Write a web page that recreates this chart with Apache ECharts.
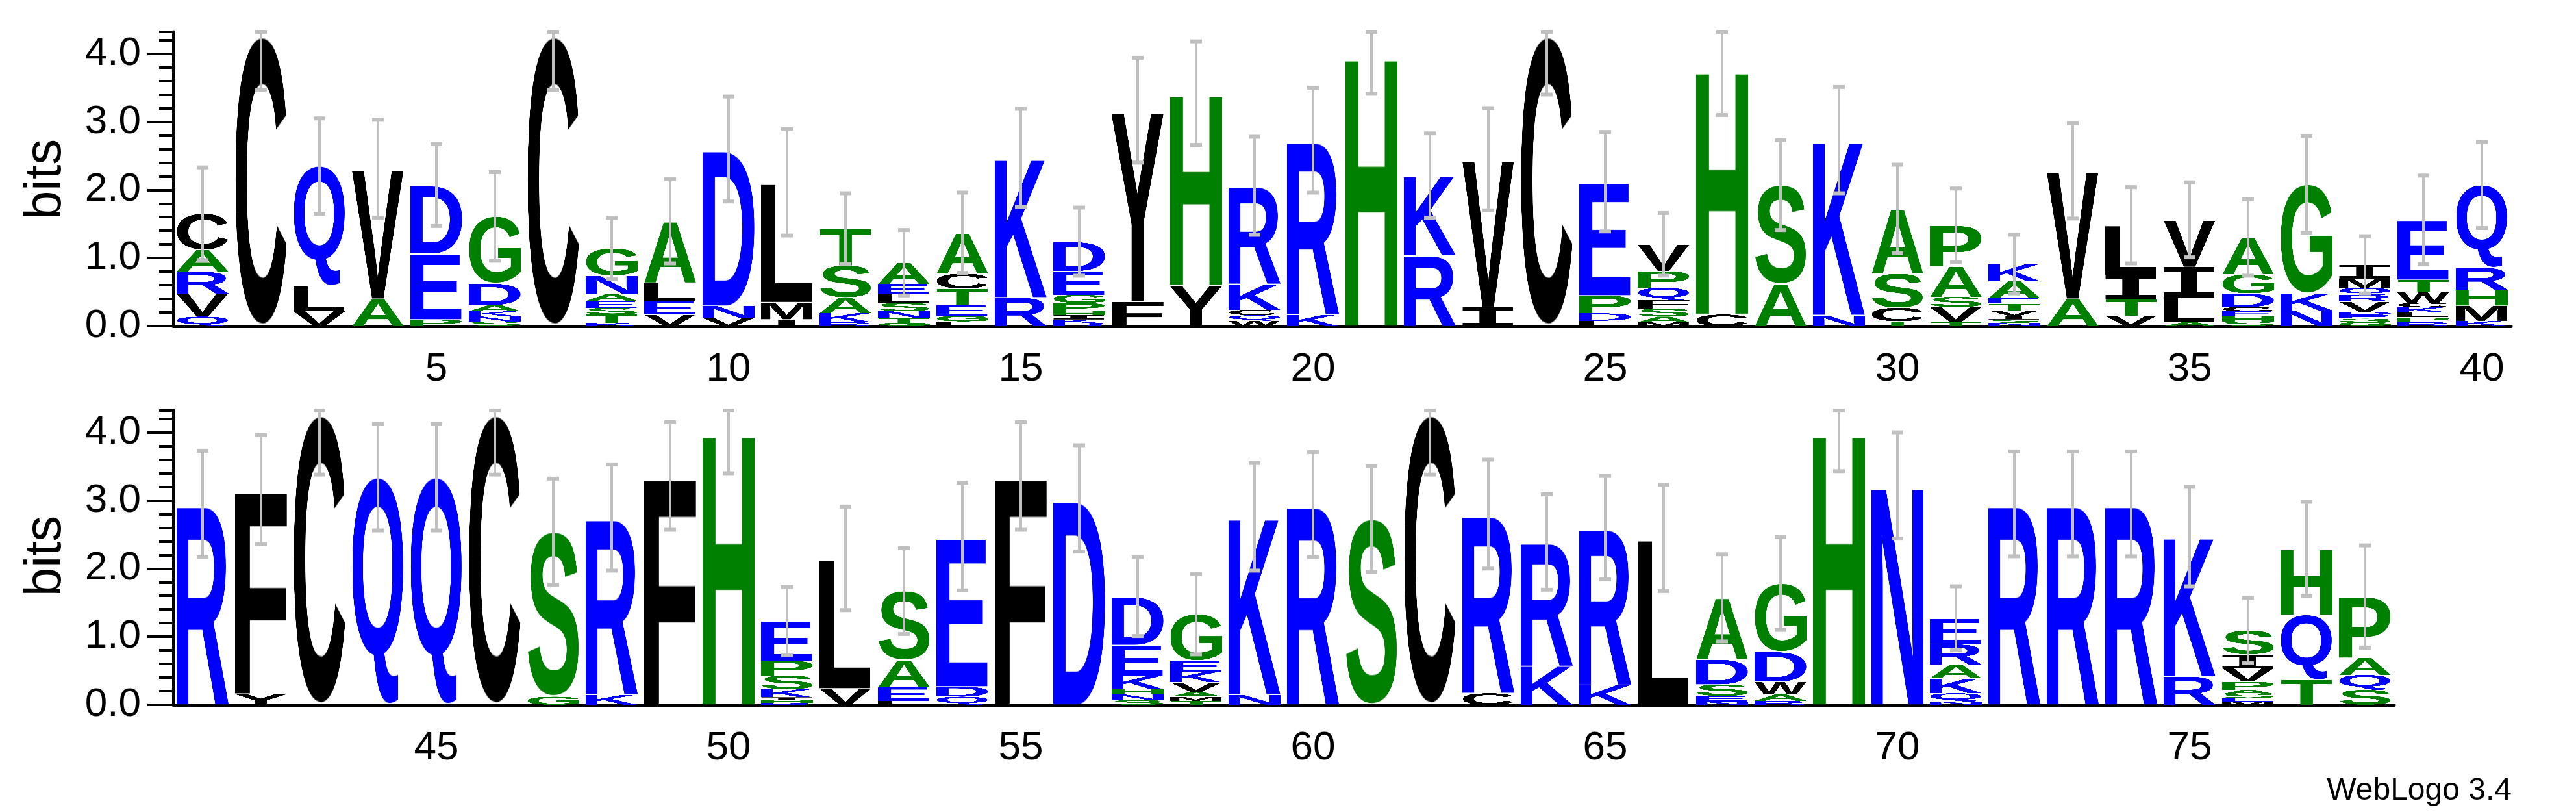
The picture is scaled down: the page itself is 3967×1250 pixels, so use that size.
<!DOCTYPE html>
<html>
<head>
<meta charset="utf-8">
<script src="https://cdn.jsdelivr.net/npm/echarts@6/dist/echarts.min.js"></script>
<style>
html,body{margin:0;padding:0;background:#fff;}
#logo{width:3967px;height:1250px;}
</style>
</head>
<body>
<div id="logo"></div>
<script>
// letter stacks, bottom -> top, letter followed by its height in bits
var stacks1 = [
  "Q.14 V.34 R.32 A.32 C.53", "C4.25", "V.22 L.37 Q1.76", "A.4 V1.91", "P.1 E.97 D1.0",
  "S.07 N.07 K.08 A.09 D.32 G.98", "C4.25", "K.05 T.12 S.1 E.1 A.1 N.27 G.4", "V.17 E.2 L.27 A.9", "V.12 N.18 D2.3",
  "I.1 M.25 L1.76", "R.06 K.13 A.23 S.47 T.54", "G.05 T.07 N.1 S.12 L.14 E.14 A.31", "L.07 G.08 E.16 T.24 C.22 A.6", "R.42 K2.05",
  "R.04 K.06 I.06 H.06 P.12 G.12 E.35 D.43", "F.36 Y2.81", "Y.6 H2.82", "W.08 Q.08 C.08 K.38 R1.44", "K.17 R2.56",
  "H3.97", "R1.04 K1.17", "I.28 V2.17", "C4.25", "L.08 D.11 P.26 E1.67",
  "M.06 A.08 S.12 F.12 Q.18 P.25 V.39", "C.17 H3.6", "A.62 S1.45", "N.16 K2.57", "T.07 C.2 S.5 A.95",
  "T.06 V.22 S.15 A.45 P.6", "N.05 S.05 I.05 V.08 T.1 E.08 A.25 K.25", "A.4 V1.88", "V.15 T.25 I.35 L.73", "A.06 L.36 I.45 V.69",
  "S.07 H.07 E.08 C.06 D.2 G.28 A.54", "N.23 K.25 G1.6", "G.06 S.05 E.05 D.05 V.15 R.1 Q.1 M.14 I.2", "R.06 P.07 L.07 K.08 C.06 W.16 T.18 E.88", "K.08 M.22 H.23 R.33 Q1.21"
];
var stacks2 = [
  "R2.95", "Y.16 F3.0", "C4.25", "Q3.34", "Q3.34",
  "C4.25", "G.12 S2.42", "K.15 R2.6", "F3.36", "H4.0",
  "D.03 H.04 I.04 K.12 S.2 P.22 E.58", "V.24 L1.91", "L.06 E.2 A.4 S1.01", "Q.12 D.15 E2.2", "F3.36",
  "D3.03", "S.07 N.08 H.08 K.2 E.45 D.71", "T.06 M.06 A.07 V.14 K.16 E.16 G.68", "N.15 K2.61", "R2.94",
  "S2.73", "C4.25", "C.17 R2.63", "K.57 R1.82", "K.29 R2.31",
  "L2.45", "N.05 E.08 S.17 D.37 A.9", "R.06 A.09 W.19 D.44 G1.0", "H4.0", "N3.22",
  "N.05 Q.12 K.22 A.2 R.3 E.38", "R2.95", "R2.95", "R2.95", "R.42 K2.05",
  "M.05 E.05 S.06 A.06 P.12 V.2 I.2 S.35", "T.37 Q.95 H.97", "S.22 Q.22 A.25 P.9"
];
// half width of the error bar around each stack top
var errHalf1 = [.68,.78,.7,.72,.6,.65,.78,.45,.62,.77,.78,.52,.48,.59,.72,.5,.77,.76,.72,.77,
  .56,.62,.75,.85,.73,.46,.67,.66,.78,.65,.54,.43,.7,.56,.55,.56,.71,.42,.65,.63];
var errHalf2 = [.78,.8,.87,.78,.78,.87,.78,.78,.79,.6,.5,.76,.63,.79,.79,.78,.58,.59,.79,.77,
  .78,.87,.8,.7,.76,.78,.64,.68,.57,.78,.47,.77,.77,.77,.73,.48,.69,.75];
var firstPos1 = 1, firstPos2 = 41;
var yTickLabels = ["0.0", "1.0", "2.0", "3.0", "4.0"];
var maxBits = 4.32;

var colors = {};
"KRDENQ".split("").forEach(function (c) { colors[c] = "#0000ff"; });
"SGHTAP".split("").forEach(function (c) { colors[c] = "#008000"; });
"YVMCLFIW".split("").forEach(function (c) { colors[c] = "#000000"; });

// glyph bitmaps cropped to the ink box, stretched later into each cell
var glyphCache = {};
function glyph(ch) {
  if (glyphCache[ch]) return glyphCache[ch];
  var cv = document.createElement("canvas");
  var ctx = cv.getContext("2d");
  // I gets a serifed glyph like the original logo
  var font = ch === "I" ? 'bold 400px "DejaVu Sans Mono", monospace' : 'bold 400px "Liberation Sans", Arial, sans-serif';
  ctx.font = font;
  var m = ctx.measureText(ch);
  var w = Math.ceil(m.actualBoundingBoxLeft + m.actualBoundingBoxRight);
  var h = Math.ceil(m.actualBoundingBoxAscent + m.actualBoundingBoxDescent);
  cv.width = w; cv.height = h;
  ctx.font = font;
  ctx.fillStyle = colors[ch] || "#000";
  ctx.textBaseline = "alphabetic";
  ctx.fillText(ch, m.actualBoundingBoxLeft, m.actualBoundingBoxAscent);
  glyphCache[ch] = cv;
  return cv;
}

function parseStacks(stacks) {
  var cells = [], letters = [], tops = [];
  stacks.forEach(function (s, i) {
    var y = 0;
    s.split(" ").forEach(function (tok) {
      var h = parseFloat(tok.slice(1));
      cells.push([i, y, y + h]);
      letters.push(tok[0]);
      y += h;
    });
    tops.push(y);
  });
  return {cells: cells, letters: letters, tops: tops};
}

function letterSeries(parsed, axisIdx) {
  return {
    type: "custom",
    xAxisIndex: axisIdx, yAxisIndex: axisIdx,
    data: parsed.cells,
    silent: true,
    renderItem: function (params, api) {
      var bottom = api.coord([api.value(0), api.value(1)]);
      var top = api.coord([api.value(0), api.value(2)]);
      var band = api.size([1, 0])[0];
      var ch = parsed.letters[params.dataIndex];
      return {
        type: "image",
        style: {
          image: glyph(ch),
          x: bottom[0] - band * 0.45,
          y: top[1],
          width: band * 0.9,
          height: Math.max(bottom[1] - top[1], 0.5)
        }
      };
    }
  };
}

function errSeries(parsed, half, axisIdx) {
  var data = parsed.tops.map(function (t, i) {
    return [i, t - half[i], Math.min(t + half[i], maxBits)];
  });
  return {
    type: "custom",
    xAxisIndex: axisIdx, yAxisIndex: axisIdx,
    data: data,
    silent: true,
    z: 5,
    renderItem: function (params, api) {
      var lo = api.coord([api.value(0), api.value(1)]);
      var hi = api.coord([api.value(0), api.value(2)]);
      var cap = {stroke: "#c0c0c0", lineWidth: 6};
      return {
        type: "group",
        children: [
          {type: "line", shape: {x1: lo[0], y1: lo[1], x2: hi[0], y2: hi[1]}, style: {stroke: "#c0c0c0", lineWidth: 4}},
          {type: "line", shape: {x1: lo[0] - 9, y1: lo[1], x2: lo[0] + 9, y2: lo[1]}, style: cap},
          {type: "line", shape: {x1: hi[0] - 9, y1: hi[1], x2: hi[0] + 9, y2: hi[1]}, style: cap}
        ]
      };
    }
  };
}

var row1 = parseStacks(stacks1);
var row2 = parseStacks(stacks2);
var cats1 = stacks1.map(function (s, i) { return String(firstPos1 + i); });
var cats2 = stacks2.map(function (s, i) { return String(firstPos2 + i); });

var labelFont = '"Liberation Sans Narrow", "Liberation Sans", sans-serif';

function xAxes(cats, gridIdx) {
  var every5 = function (i) { return Number(cats[i]) % 5 === 0; };
  return [
    {
      type: "category", gridIndex: gridIdx, data: cats, boundaryGap: true, position: "bottom",
      axisLine: {lineStyle: {color: "#000", width: 5}},
      axisTick: {alignWithLabel: true, interval: 0, length: 10, lineStyle: {color: "#000", width: 4}},
      axisLabel: {interval: every5, margin: 36, color: "#000", fontSize: 62, fontFamily: labelFont}
    },
    {
      type: "category", gridIndex: gridIdx, data: cats, boundaryGap: true, position: "bottom",
      axisLine: {show: false},
      axisTick: {alignWithLabel: true, interval: every5, length: 19, lineStyle: {color: "#000", width: 4}},
      axisLabel: {show: false}
    }
  ];
}
function yAxes(gridIdx) {
  return [
    {
      type: "value", gridIndex: gridIdx, min: 0, max: maxBits, interval: 1, position: "left",
      axisLine: {show: true, lineStyle: {color: "#000", width: 5}},
      axisTick: {show: true, length: 40, lineStyle: {color: "#000", width: 4}},
      axisLabel: {margin: 50, color: "#000", fontSize: 62, fontFamily: labelFont,
        formatter: function (v) { return yTickLabels[Math.round(v)] || ""; },
        showMaxLabel: false},
      splitLine: {show: false}
    },
    {
      type: "value", gridIndex: gridIdx, min: 0, max: maxBits, interval: 0.2, position: "left", offset: 0,
      axisLine: {show: false},
      axisTick: {show: true, length: 22, lineStyle: {color: "#000", width: 4}},
      axisLabel: {show: false},
      splitLine: {show: false}
    }
  ];
}

var chart = echarts.init(document.getElementById("logo"));
chart.setOption({
  animation: false,
  backgroundColor: "#fff",
  grid: [
    {left: 267, width: 3600, top: 49, height: 453},
    {left: 267, width: 3420, top: 632, height: 453}
  ],
  xAxis: xAxes(cats1, 0).concat(xAxes(cats2, 1)),
  yAxis: yAxes(0).concat(yAxes(1)),
  series: [
    letterSeries(row1, 0), errSeries(row1, errHalf1, 0),
    letterSeries(row2, 2), errSeries(row2, errHalf2, 2)
  ],
  graphic: [
    {type: "text", x: 71, y: 276, rotation: Math.PI / 2, style: {text: "bits", font: '80px "Liberation Sans", sans-serif', fill: "#000", align: "center", verticalAlign: "middle"}},
    {type: "text", x: 71, y: 856, rotation: Math.PI / 2, style: {text: "bits", font: '80px "Liberation Sans", sans-serif', fill: "#000", align: "center", verticalAlign: "middle"}},
    {type: "text", x: 3868, y: 1218, style: {text: "WebLogo 3.4", font: '48px ' + labelFont, fill: "#000", align: "right", verticalAlign: "middle"}}
  ]
});
</script>
</body>
</html>
